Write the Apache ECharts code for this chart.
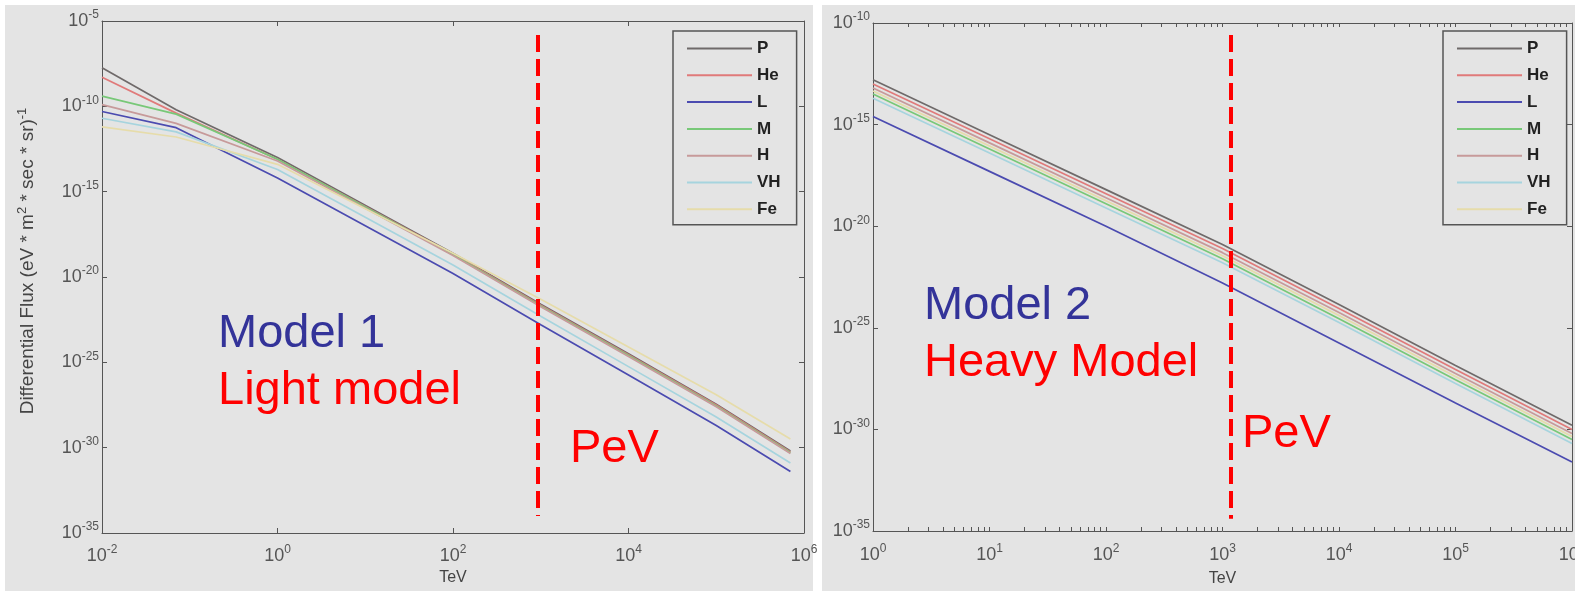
<!DOCTYPE html>
<html lang="en" style="height: 100%">
<head>
  <meta charset="utf-8">
</head>
<body style="height: 100%; margin: 0; background: #fff">
  <div id="container" style="width: 1575px; height: 591px"></div>

  <script type="text/javascript" src="https://cdn.jsdelivr.net/npm/echarts@6/dist/echarts.min.js"></script>

  <script type="text/javascript">
    // species shown in both panels (legend order)
    var speciesNames = ['P', 'He', 'L', 'M', 'H', 'VH', 'Fe'];
    var speciesColors = ['#6f6a6a', '#e07a7a', '#4b4bb0', '#78c878', '#c79a9a', '#a6d4de', '#e6dcaa'];

    // Model 1 (light model): energy in TeV, flux values
    var model1TeV = [0.01, 0.07, 1, 100, 1000, 1e4, 1e5, 7e5];
    var model1P  = [1.8e-8, 6.3e-11, 1e-13, 2.5e-19, 2.5e-22, 3.2e-25, 3.5e-28, 6.3e-31];
    var model1He = [5.0e-9, 4.0e-11, 7.9e-14, 2.2e-19, 2.2e-22, 2.8e-25, 3.2e-28, 5.6e-31];
    var model1L  = [5.0e-11, 5.6e-12, 6.3e-15, 1.6e-20, 1.6e-23, 1.8e-26, 2.0e-29, 4.0e-32];
    var model1M  = [4.0e-10, 3.5e-11, 7.9e-14, 2.0e-19, 2.0e-22, 2.5e-25, 2.8e-28, 5.0e-31];
    var model1H  = [1.26e-10, 1e-11, 6.3e-14, 1.8e-19, 1.8e-22, 2.2e-25, 2.5e-28, 4.5e-31];
    var model1VH = [2.0e-11, 3.2e-12, 2.0e-14, 5.0e-20, 5.0e-23, 5.6e-26, 6.3e-29, 1.26e-31];
    var model1Fe = [6.3e-12, 1.6e-12, 4.0e-14, 2.5e-19, 5.0e-22, 7.9e-25, 1.26e-27, 3.2e-30];

    // Model 2 (heavy model)
    var model2TeV = [1, 10, 100, 1000, 1e4, 1e5, 1e6];
    var model2P  = [1.6e-13, 3.2e-16, 6.3e-19, 1.26e-21, 1.4e-24, 1.4e-27, 1.6e-30];
    var model2He = [1e-13, 2.0e-16, 4.0e-19, 7.9e-22, 8.9e-25, 8.9e-28, 1e-30];
    var model2L  = [2.5e-15, 5.0e-18, 1e-20, 1.6e-23, 1.8e-26, 2.0e-29, 2.5e-32];
    var model2M  = [3.2e-14, 6.3e-17, 1.26e-19, 2.5e-22, 2.8e-25, 2.8e-28, 3.2e-31];
    var model2H  = [6.3e-14, 1.26e-16, 2.5e-19, 5.0e-22, 5.6e-25, 5.6e-28, 6.3e-31];
    var model2VH = [2.0e-14, 4.0e-17, 7.9e-20, 1.6e-22, 1.8e-25, 1.8e-28, 2.0e-31];
    var model2Fe = [4.5e-14, 8.9e-17, 1.8e-19, 3.5e-22, 4.0e-25, 4.0e-28, 4.5e-31];

    // hand-drawn "PeV" marker: energy (TeV) and vertical span (flux) per panel
    var pevMarker1 = [930, 1.5e-6, 1e-34];
    var pevMarker2 = [1170, 2.6e-11, 4e-35];

    // axis ranges (decades, powers of ten)
    var model1Decades = { x: [-2, 6], y: [-35, -5] };
    var model2Decades = { x: [0, 6], y: [-35, -10] };

    var model1Flux = [model1P, model1He, model1L, model1M, model1H, model1VH, model1Fe];
    var model2Flux = [model2P, model2He, model2L, model2M, model2H, model2VH, model2Fe];

    var panelGray = '#e4e4e4';
    var axisGray = '#555';
    var font = 'Liberation Sans';

    // both panels are log-log: the value axes run in powers of ten
    function pairs(xs, ys) {
      return xs.map(function (x, i) { return [Math.log10(x), Math.log10(ys[i])]; });
    }

    function powerLabel(value) {
      return '{b|10}{s|' + Math.round(value) + '}';
    }

    var tickRich = {
      b: { fontSize: 18, lineHeight: 24, color: axisGray, fontFamily: font },
      s: { fontSize: 12, lineHeight: 13, verticalAlign: 'top', color: axisGray, fontFamily: font }
    };

    function decadeAxis(grid, pos, range, interval, labelMargin, extra) {
      var a = {
        type: 'value',
        gridIndex: grid,
        position: pos,
        min: range[0],
        max: range[1],
        interval: interval,
        axisLine: { show: true, onZero: false, lineStyle: { color: axisGray, width: 1 } },
        axisTick: { show: true, inside: true, length: 5, lineStyle: { color: axisGray } },
        splitLine: { show: false },
        axisLabel: labelMargin != null
          ? { formatter: powerLabel, rich: tickRich, margin: labelMargin }
          : { show: false }
      };
      for (var k in extra) a[k] = extra[k];
      return a;
    }

    // right panel: decade ticks plus log-spaced minor ticks (2..9 in every decade)
    var model2XTicks = [];
    for (var d = model2Decades.x[0]; d < model2Decades.x[1]; d++) {
      model2XTicks.push(d);
      for (var m = 2; m <= 9; m++) model2XTicks.push(d + Math.log10(m));
    }
    model2XTicks.push(model2Decades.x[1]);
    var model2XTick = { show: true, inside: true, length: 4, customValues: model2XTicks, lineStyle: { color: axisGray } };

    var series = [];
    function addModel(xs, fluxes, axisIndex) {
      speciesNames.forEach(function (name, i) {
        series.push({
          name: name, type: 'line', xAxisIndex: axisIndex, yAxisIndex: axisIndex,
          symbol: 'none', smooth: false,
          lineStyle: { width: 1.7, color: speciesColors[i] },
          itemStyle: { color: speciesColors[i] },
          data: pairs(xs, fluxes[i])
        });
      });
    }
    addModel(model1TeV, model1Flux, 0);
    addModel(model2TeV, model2Flux, 2);

    function pevLine(m) {
      var x = Math.log10(m[0]);
      return {
        silent: true,
        symbol: ['none', 'none'],
        label: { show: false },
        lineStyle: { color: '#ff0000', width: 4, type: [17, 7], opacity: 1 },
        data: [[{ coord: [x, Math.log10(m[1])] }, { coord: [x, Math.log10(m[2])] }]]
      };
    }
    series[6].markLine = pevLine(pevMarker1);
    series[13].markLine = pevLine(pevMarker2);

    function legendAt(left) {
      return {
        data: speciesNames,
        orient: 'vertical',
        left: left,
        top: 31,
        padding: [9, 16, 7, 13],
        itemWidth: 65,
        itemHeight: 16,
        itemGap: 9.8,
        borderColor: axisGray,
        borderWidth: 1.5,
        borderRadius: 0,
        backgroundColor: panelGray,
        selectedMode: false,
        itemStyle: { opacity: 0, borderWidth: 0 },
        textStyle: { fontSize: 17, fontWeight: 'bold', color: '#222', fontFamily: font }
      };
    }

    function annot(text, x, y, color) {
      return {
        type: 'text', x: x, y: y, z: 50,
        style: { text: text, fill: color, fontSize: 47, fontFamily: font, verticalAlign: 'middle' }
      };
    }

    var tevName = { fontSize: 16, color: '#444', fontFamily: font, verticalAlign: 'top' };

    var option = {
      animation: false,
      backgroundColor: '#ffffff',
      textStyle: { fontFamily: font },
      grid: [
        { left: 102, top: 21, width: 702, height: 512, outerBoundsMode: 'none', containLabel: false },
        { left: 873, top: 23, width: 699, height: 508, outerBoundsMode: 'none', containLabel: false }
      ],
      legend: [legendAt(673), legendAt(1443)],
      xAxis: [
        decadeAxis(0, 'bottom', model1Decades.x, 2, 11, { name: 'TeV', nameLocation: 'middle', nameGap: 37, nameTextStyle: tevName }),
        decadeAxis(0, 'top', model1Decades.x, 2, null, {}),
        decadeAxis(1, 'bottom', model2Decades.x, 1, 12, { name: 'TeV', nameLocation: 'middle', nameGap: 40, nameTextStyle: tevName, axisTick: model2XTick }),
        decadeAxis(1, 'top', model2Decades.x, 1, null, { axisTick: model2XTick })
      ],
      yAxis: [
        decadeAxis(0, 'left', model1Decades.y, 5, 3, {
          name: 'Differential Flux (eV * m{s|2} * sec * sr){s|-1}',
          nameLocation: 'middle', nameRotate: 90, nameGap: 62,
          nameTextStyle: {
            fontSize: 19, lineHeight: 24, color: '#444', fontFamily: font, padding: [0, 0, 0, 32],
            rich: { s: { fontSize: 13, lineHeight: 14, verticalAlign: 'top', color: '#444', fontFamily: font } }
          }
        }),
        decadeAxis(0, 'right', model1Decades.y, 5, null, {}),
        decadeAxis(1, 'left', model2Decades.y, 5, 3, {}),
        decadeAxis(1, 'right', model2Decades.y, 5, null, {})
      ],
      graphic: [
        { type: 'rect', z: -10, silent: true, shape: { x: 5, y: 5, width: 808, height: 586 }, style: { fill: panelGray } },
        { type: 'rect', z: -10, silent: true, shape: { x: 822, y: 5, width: 753, height: 586 }, style: { fill: panelGray } },
        annot('Model 1', 218, 334, '#333399'),
        annot('Light model', 218, 391, '#ff0000'),
        annot('PeV', 570, 449, '#ff0000'),
        annot('Model 2', 924, 306, '#333399'),
        annot('Heavy Model', 924, 363, '#ff0000'),
        annot('PeV', 1242, 434, '#ff0000')
      ],
      series: series
    };

    var myChart = echarts.init(document.getElementById('container'), null, { renderer: 'canvas' });
    myChart.setOption(option);
    window.addEventListener('resize', myChart.resize);
  </script>
</body>
</html>
